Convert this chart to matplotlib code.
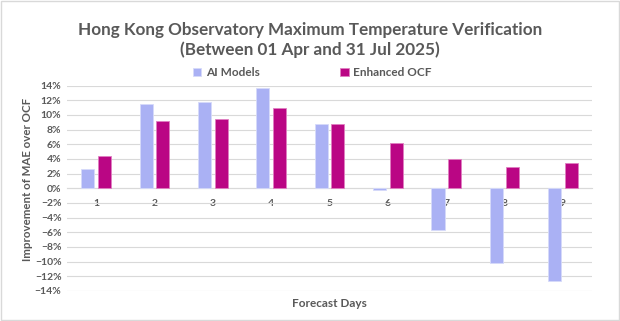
import matplotlib
matplotlib.use("Agg")
import matplotlib.pyplot as plt
from matplotlib.patches import Rectangle
from matplotlib.ticker import PercentFormatter
import numpy as np

plt.rcParams['font.family'] = ['Lato', 'DejaVu Sans']

# data (percent)
days = ['1', '2', '3', '4', '5', '6', '7', '8', '9']
ai_models = [2.6, 11.5, 11.8, 13.6, 8.8, -0.2, -5.7, -10.2, -12.7]
enhanced_ocf = [4.4, 9.2, 9.4, 11.0, 8.7, 6.2, 4.0, 2.9, 3.5]
series_names = ['AI Models', 'Enhanced OCF']
title = 'Hong Kong Observatory Maximum Temperature Verification\n(Between 01 Apr and 31 Jul 2025)'

c_ai = '#AAB1F4'
c_ocf = '#BA0684'
c_text = '#595959'
c_grid = '#D9D9D9'

fig = plt.figure(figsize=(6.2, 3.21), dpi=100)
ax = fig.add_axes([0.108, 0.0935, 0.847, 0.64])

x = np.arange(len(days))
w = 0.225
off = 0.142
ax.bar(x - off, ai_models, w, color=c_ai, edgecolor='#D6DAFA', linewidth=0.6,
       label=series_names[0], zorder=3)
ax.bar(x + off, enhanced_ocf, w, color=c_ocf, edgecolor='#E07FC1', linewidth=0.6,
       label=series_names[1], zorder=3)

ax.set_xlim(-0.5, len(days) - 0.5)
ax.set_ylim(-14, 14)
ax.set_yticks(np.arange(-14, 15, 2))
ax.yaxis.set_major_formatter(PercentFormatter(decimals=0))
ax.grid(axis='y', color=c_grid, linewidth=0.8, zorder=0)

for s in ['left', 'right', 'top']:
    ax.spines[s].set_visible(False)
ax.spines['bottom'].set_position(('data', 0))
ax.spines['bottom'].set_color(c_grid)
ax.spines['bottom'].set_linewidth(0.8)
ax.spines['bottom'].set_zorder(0)

ax.set_xticks(x)
ax.set_xticklabels(days)
ax.tick_params(axis='both', length=0, colors=c_text, labelsize=7.5)
ax.tick_params(axis='x', pad=8)
ax.tick_params(axis='y', pad=4)
for t in ax.get_xticklabels() + ax.get_yticklabels():
    t.set_fontweight('bold')

# axis titles placed in figure coords, like the Excel chart
fig.text(0.044, 0.442, 'Improvement of MAE over OCF', rotation=90,
         ha='center', va='center', color=c_text, fontsize=8.3, fontweight='bold')
fig.text(0.532, 0.053, 'Forecast Days', ha='center', va='center',
         color=c_text, fontsize=8.5, fontweight='bold')

fig.text(0.5, 0.875, title, ha='center', va='center', color=c_text,
         fontsize=12.3, fontweight='bold', linespacing=1.3)

leg = fig.legend(loc='center', bbox_to_anchor=(0.504, 0.773), ncol=2,
                 frameon=False, fontsize=8.5, handlelength=0.7,
                 handleheight=0.7, handletextpad=0.4, columnspacing=6.8)
for t in leg.get_texts():
    t.set_color(c_text)
    t.set_fontweight('bold')

fig.patches.append(Rectangle((0.002, 0.003), 0.996, 0.994, transform=fig.transFigure,
                             fill=False, edgecolor='#D9D9D9', linewidth=1.0))

fig.savefig('out.png', dpi=100, facecolor='white')
